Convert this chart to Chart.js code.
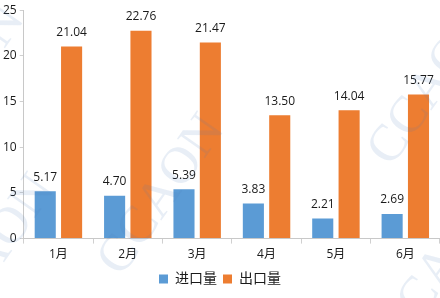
<!DOCTYPE html>
<html>
<head>
<meta charset="utf-8">
<script src="https://cdn.jsdelivr.net/npm/chart.js@4"></script>
<style>
  html, body { margin: 0; padding: 0; background: #fff; }
  #wrap { width: 440px; height: 298px; }
</style>
</head>
<body>
<div id="wrap"><canvas id="myChart"></canvas></div>
<script>
// données
const months = ['1月', '2月', '3月', '4月', '5月', '6月'];
const importVals = [5.17, 4.70, 5.39, 3.83, 2.21, 2.69];
const exportVals = [21.04, 22.76, 21.47, 13.50, 14.04, 15.77];
const yTicks = [0, 5, 10, 15, 20, 25];

const fontFamily = "'Open Sans', 'Noto Sans CJK SC', sans-serif";

// étiquettes au-dessus des barres
const valueLabels = {
    id: 'valueLabels',
    afterDatasetsDraw(chart) {
        const ctx = chart.ctx;
        ctx.save();
        ctx.font = '12px ' + fontFamily;
        ctx.fillStyle = '#1a1a1a';
        ctx.textAlign = 'center';
        ctx.textBaseline = 'bottom';
        chart.data.datasets.forEach((ds, i) => {
            chart.getDatasetMeta(i).data.forEach((bar, j) => {
                ctx.fillText(ds.data[j].toFixed(2), bar.x, bar.y - 8);
            });
        });
        ctx.restore();
    }
};

// filigrane CCAON
const watermark = {
    id: 'watermark',
    afterDraw(chart) {
        const ctx = chart.ctx;
        ctx.save();
        ctx.font = '52px "Liberation Serif", serif';
        ctx.fillStyle = 'rgba(80, 120, 185, 0.13)';
        const spots = [[110, 270], [-90, 160], [-60, 330], [380, 160], [390, 340]];
        spots.forEach(p => {
            ctx.save();
            ctx.translate(p[0], p[1]);
            ctx.rotate(-55 * Math.PI / 180);
            ctx.fillText('CCAON', 0, 0);
            ctx.restore();
        });
        ctx.restore();
    }
};

const ctx = document.getElementById('myChart').getContext('2d');

new Chart(ctx, {
    type: 'bar',
    data: {
        labels: months,
        datasets: [{
            label: '进口量',
            data: importVals,
            backgroundColor: '#5b9bd5',
            categoryPercentage: 0.76,
            barPercentage: 0.8
        }, {
            label: '出口量',
            data: exportVals,
            backgroundColor: '#ed7d31',
            categoryPercentage: 0.76,
            barPercentage: 0.8
        }]
    },
    options: {
        responsive: true,
        maintainAspectRatio: false,
        animation: false,
        layout: { padding: { top: 6, right: 0, left: 0, bottom: 2 } },
        plugins: {
            legend: {
                position: 'bottom',
                labels: {
                    boxWidth: 9,
                    boxHeight: 9,
                    padding: 6,
                    color: '#1a1a1a',
                    font: { size: 14, family: fontFamily }
                }
            },
            tooltip: { enabled: false }
        },
        scales: {
            x: {
                grid: { display: true, drawOnChartArea: false, offset: true, tickLength: 5, color: '#d0d0d0' },
                border: { color: '#c8c8c8' },
                ticks: { color: '#1a1a1a', font: { size: 12, family: fontFamily }, padding: 4 }
            },
            y: {
                min: 0,
                max: 25,
                afterBuildTicks: axis => { axis.ticks = yTicks.map(v => ({ value: v })); },
                grid: { display: true, drawOnChartArea: false, tickLength: 4, color: '#d0d0d0' },
                border: { color: '#c8c8c8' },
                ticks: { color: '#1a1a1a', font: { size: 12, family: fontFamily }, padding: 3 }
            }
        }
    },
    plugins: [valueLabels, watermark]
});
</script>
</body>
</html>
